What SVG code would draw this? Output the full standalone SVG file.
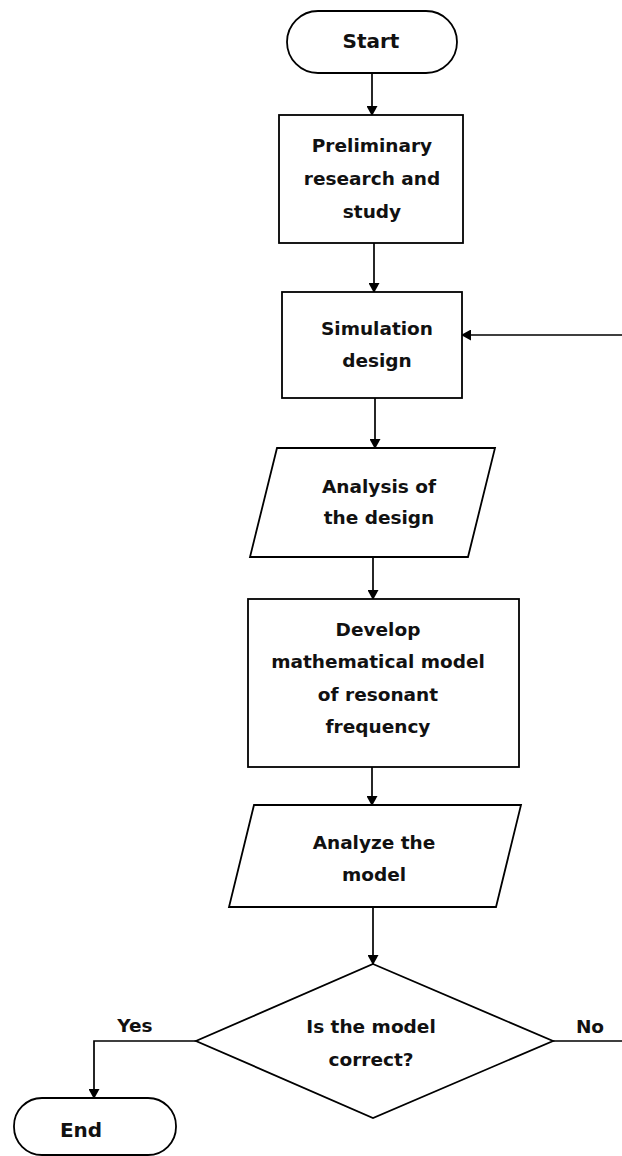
<svg xmlns="http://www.w3.org/2000/svg" width="622" height="1156" viewBox="0 0 622 1156">
<defs>
<marker id="ah" markerWidth="10" markerHeight="11" refX="9" refY="5.5" orient="auto" markerUnits="userSpaceOnUse">
<path d="M0,0 L10,5.5 L0,11 Z" fill="#000"/>
</marker>
<style>
.s{fill:#fff;stroke:#000;stroke-width:1.8}
.t{font-family:"DejaVu Sans",sans-serif;font-weight:bold;font-size:18.5px;text-anchor:middle;fill:#111}
.big{font-size:20px}
.c{fill:none;stroke:#000;stroke-width:1.7;marker-end:url(#ah)}
</style>
</defs>
<rect width="622" height="1156" fill="#fff"/>
<g id="connectors">
<path class="c" d="M372,73 V115"/>
<path class="c" d="M374,243 V292"/>
<path class="c" d="M375,398 V448"/>
<path class="c" d="M373,557 V599"/>
<path class="c" d="M372,767 V805"/>
<path class="c" d="M373,907 V964"/>
<path class="c" d="M196,1041 H94 V1098"/>
<path class="c" d="M553,1041 H640 V335 H462"/>
<text class="t" x="135" y="1032">Yes</text>
<text class="t" x="590" y="1033">No</text>
</g>
<g id="start">
<rect class="s" x="287" y="11" width="170" height="62" rx="31" ry="31"/>
<text class="t big" x="371" y="48">Start</text>
</g>
<g id="preliminary">
<rect class="s" x="279" y="115" width="184" height="128"/>
<text class="t" x="372" y="152">Preliminary</text>
<text class="t" x="372" y="185">research and</text>
<text class="t" x="372" y="218">study</text>
</g>
<g id="simulation">
<rect class="s" x="282" y="292" width="180" height="106"/>
<text class="t" x="377" y="335">Simulation</text>
<text class="t" x="377" y="367">design</text>
</g>
<g id="analysis">
<polygon class="s" points="277,448 495,448 468,557 250,557"/>
<text class="t" x="379" y="493">Analysis of</text>
<text class="t" x="379" y="524">the design</text>
</g>
<g id="develop">
<rect class="s" x="248" y="599" width="271" height="168"/>
<text class="t" x="378" y="636">Develop</text>
<text class="t" x="378" y="668">mathematical model</text>
<text class="t" x="378" y="701">of resonant</text>
<text class="t" x="378" y="733">frequency</text>
</g>
<g id="analyze">
<polygon class="s" points="254,805 521,805 496,907 229,907"/>
<text class="t" x="374" y="849">Analyze the</text>
<text class="t" x="374" y="881">model</text>
</g>
<g id="decision">
<polygon class="s" points="373,964 553,1041 373,1118 196,1041"/>
<text class="t" x="371" y="1033">Is the model</text>
<text class="t" x="371" y="1066">correct?</text>
</g>
<g id="end">
<rect class="s" x="14" y="1098" width="162" height="57" rx="28" ry="28"/>
<text class="t big" x="81" y="1137">End</text>
</g>
</svg>
